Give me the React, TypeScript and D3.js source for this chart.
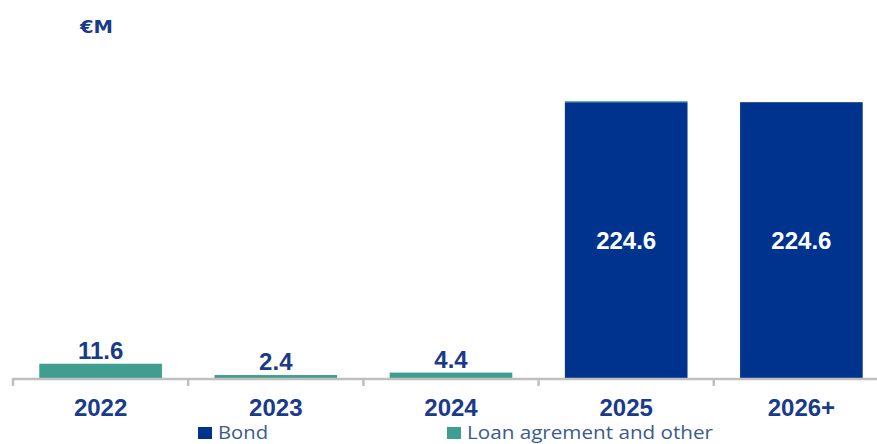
import { useRef, useEffect } from "react";
import * as d3 from "d3";

const years = ["2022", "2023", "2024", "2025", "2026+"];
const bond = [0, 0, 0, 224.6, 224.6];
const loan = [11.6, 2.4, 4.4, 0.8, 0];
const seriesNames = ["Bond", "Loan agrement and other"];

const W = 877, H = 444;
const BLUE = "#00338d";
const TEAL = "#3f9e8f";
const TEXT = "#1a3a8a";
const FONT = "Liberation Sans, Arial, sans-serif";

export default function App() {
  const ref = useRef<SVGSVGElement>(null);

  useEffect(() => {
    if (!ref.current) return;
    const svg = d3.select(ref.current); svg.selectAll("*").remove();
    const base = 378;
    const x = d3.scaleBand().domain(years).range([13, 889]).paddingInner(0.3).paddingOuter(0.15);
    const y = d3.scaleLinear().domain([0, 250]).range([base, 71]);
    const rows = years.map((yr, i) => ({ year: yr, bond: bond[i], loan: loan[i] }));

    svg.append("text").attr("x", 80).attr("y", 33).attr("fill", TEXT).attr("font-size", "18px")
      .attr("font-weight", "bold").attr("font-family", "DejaVu Sans, sans-serif")
      .attr("textLength", 33).attr("lengthAdjust", "spacingAndGlyphs").text("€M");

    // bond
    svg.selectAll(".bond").data(rows.filter(d => d.bond > 0)).join("rect")
      .attr("x", d => x(d.year)!).attr("width", x.bandwidth())
      .attr("y", d => y(d.bond)).attr("height", d => base - y(d.bond)).attr("fill", BLUE);
    // loan stacked on bond
    svg.selectAll(".loan").data(rows.filter(d => d.loan > 0)).join("rect")
      .attr("x", d => x(d.year)!).attr("width", x.bandwidth())
      .attr("y", d => y(d.bond + d.loan)).attr("height", d => y(d.bond) - y(d.bond + d.loan)).attr("fill", TEAL);

    // value labels
    svg.selectAll(".bl").data(rows.filter(d => d.bond > 0)).join("text")
      .attr("x", d => x(d.year)! + x.bandwidth() / 2).attr("y", d => (y(d.bond) + base) / 2 + 9)
      .attr("text-anchor", "middle").attr("fill", "#ffffff").attr("font-size", "24px").attr("font-weight", "bold")
      .attr("font-family", FONT).text(d => d.bond.toFixed(1));
    svg.selectAll(".ll").data(rows.filter(d => d.bond === 0)).join("text")
      .attr("x", d => x(d.year)! + x.bandwidth() / 2).attr("y", d => y(d.loan) - 5)
      .attr("text-anchor", "middle").attr("fill", TEXT).attr("font-size", "24px").attr("font-weight", "bold")
      .attr("font-family", FONT).text(d => d.loan.toFixed(1));

    // axis
    svg.append("line").attr("x1", 13).attr("x2", W).attr("y1", base + 1).attr("y2", base + 1)
      .attr("stroke", "#bfbfbf").attr("stroke-width", 2.5);
    const ticks = years.map(d => x(d)! + x.bandwidth() / 2 - x.step() / 2);
    svg.selectAll(".tk").data(ticks).join("line")
      .attr("x1", d => d).attr("x2", d => d).attr("y1", base).attr("y2", base + 8)
      .attr("stroke", "#bfbfbf").attr("stroke-width", 2.5);
    svg.selectAll(".yl").data(years).join("text")
      .attr("x", d => x(d)! + x.bandwidth() / 2).attr("y", 416)
      .attr("text-anchor", "middle").attr("fill", TEXT).attr("font-size", "24px").attr("font-weight", "bold")
      .attr("font-family", FONT).text(d => d);

    // legend
    [{ label: seriesNames[0], color: BLUE, x: 198, w: 50 }, { label: seriesNames[1], color: TEAL, x: 447, w: 246 }].forEach(l => {
      svg.append("rect").attr("x", l.x).attr("y", 427).attr("width", 14).attr("height", 12).attr("fill", l.color);
      svg.append("text").attr("x", l.x + 20).attr("y", 439).attr("fill", "#3b5a8f").attr("font-size", "19px")
        .attr("font-family", "Open Sans, sans-serif")
        .attr("textLength", l.w).attr("lengthAdjust", "spacingAndGlyphs").text(l.label);
    });
  }, []);

  return (
    <svg ref={ref} width={W} height={H}
      style={{ position: "fixed", left: 0, top: 0, background: "#ffffff", display: "block" }} />
  );
}
